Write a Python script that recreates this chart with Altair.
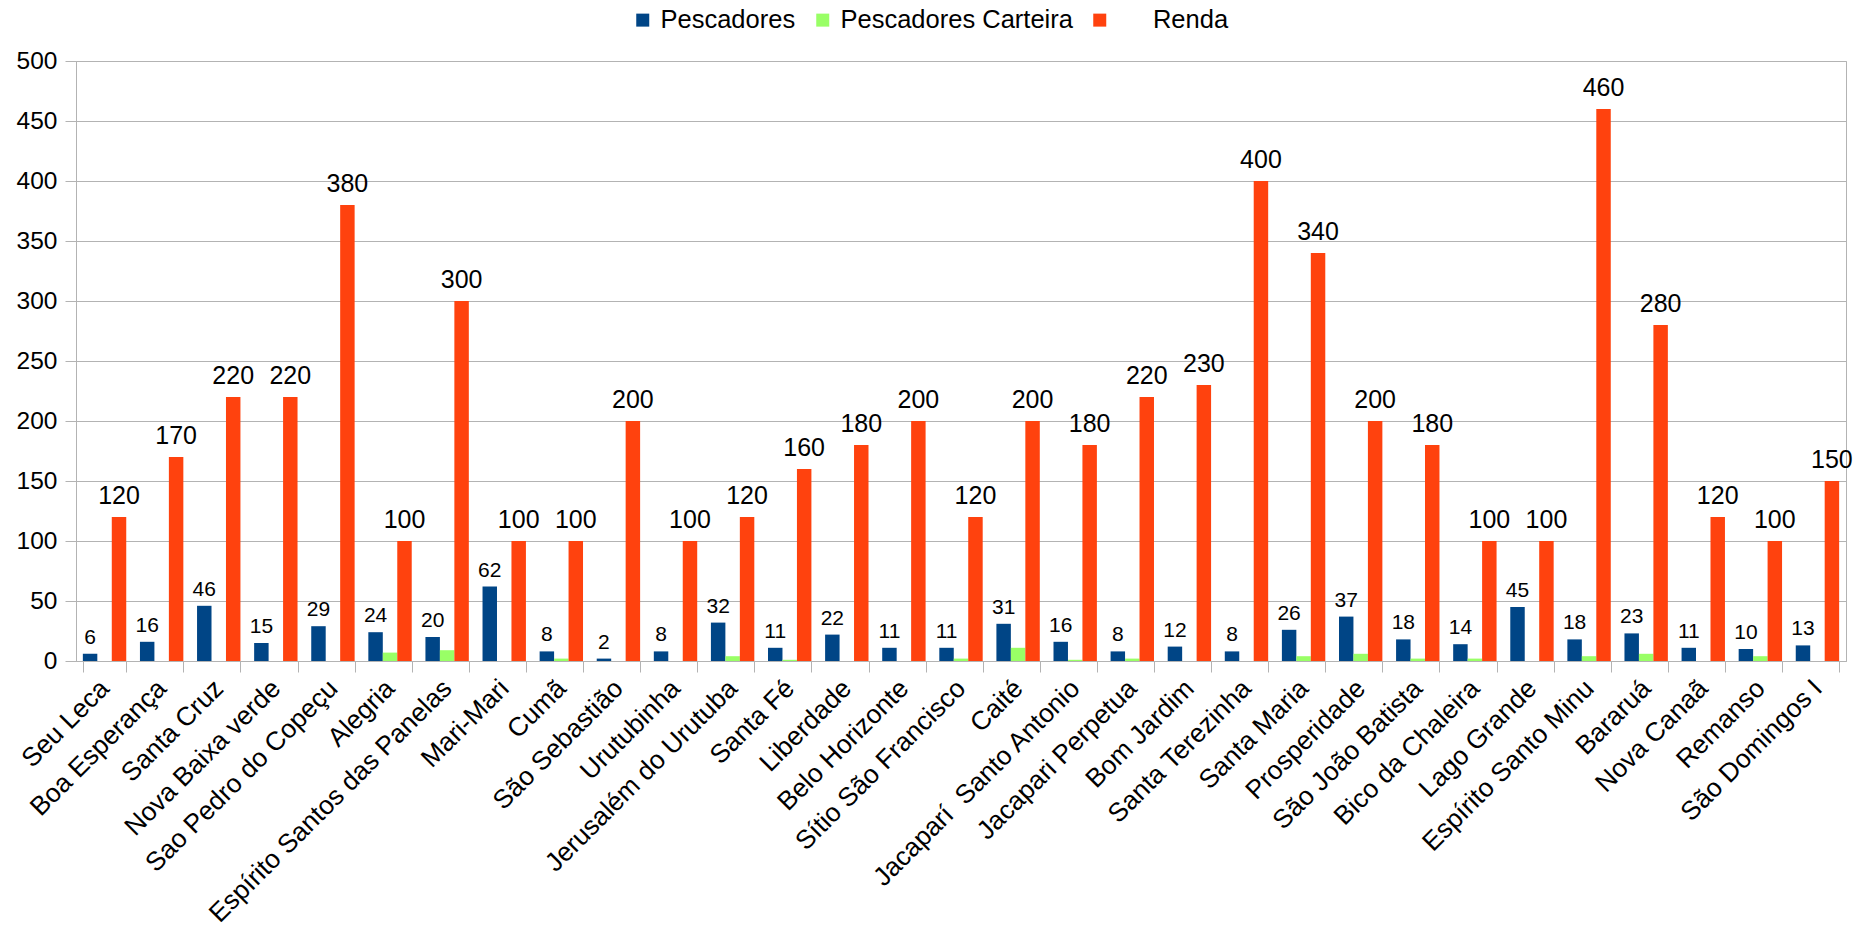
import altair as alt
import pandas as pd

# Communities, in display order
comunidades = [
    "Seu Leca", "Boa Esperança", "Santa Cruz", "Nova Baixa verde",
    "Sao Pedro do Copeçu", "Alegria", "Espírito Santos das Panelas",
    "Mari-Mari", "Cumã", "São Sebastião", "Urutubinha",
    "Jerusalém do Urutuba", "Santa Fé", "Liberdade", "Belo Horizonte",
    "Sítio São Francisco", "Caité", "Jacaparí  Santo Antonio",
    "Jacapari Perpetua", "Bom Jardim", "Santa Terezinha", "Santa Maria",
    "Prosperidade", "São João Batista", "Bico da Chaleira", "Lago Grande",
    "Espírito Santo Minu", "Bararuá", "Nova Canaã", "Remanso",
    "São Domingos I",
]

pescadores = [6, 16, 46, 15, 29, 24, 20, 62, 8, 2, 8, 32, 11, 22, 11, 11,
              31, 16, 8, 12, 8, 26, 37, 18, 14, 45, 18, 23, 11, 10, 13]

pescadores_carteira = [0, 0, 0, 0, 0, 7, 9, 0, 2, 0, 0, 4, 1, 0, 0, 2,
                       11, 1, 2, 0, 0, 4, 6, 2, 2, 0, 4, 6, 0, 4, 0]

renda = [120, 170, 220, 220, 380, 100, 300, 100, 100, 200, 100, 120, 160,
         180, 200, 120, 200, 180, 220, 230, 400, 340, 200, 180, 100, 100,
         460, 280, 120, 100, 150]

series = ["Pescadores", "Pescadores Carteira", "Renda"]
cores = ["#004586", "#99ff66", "#ff420e"]

rows = []
for i, c in enumerate(comunidades):
    for s, vals in zip(series, [pescadores, pescadores_carteira, renda]):
        rows.append({"comunidade": c, "serie": s, "valor": vals[i]})
df = pd.DataFrame(rows)

FONT = "Liberation Sans"
GRID = "#b3b3b3"
NBSP = "\u00a0"
ZWSP = "\u200b"

x_enc = alt.X(
    "comunidade:N",
    sort=comunidades,
    scale=alt.Scale(paddingInner=0.24, paddingOuter=0.12),
    axis=alt.Axis(
        title=None,
        labelAngle=-45,
        labelAlign="right",
        labelBaseline="middle",
        labelFontSize=26.3,
        labelPadding=12,
        labelLimit=1000,
        labelColor="black",
        # keep doubled spaces in names visible
        labelExpr=f"replace(datum.label, '  ', '{NBSP}{NBSP}')",
        tickBand="extent",
        tickSize=11,
        tickColor=GRID,
        domainColor=GRID,
        grid=False,
    ),
)
xoff_enc = alt.XOffset(
    "serie:N",
    sort=series,
    scale=alt.Scale(domain=series, paddingInner=0, paddingOuter=0),
)
y_enc = alt.Y(
    "valor:Q",
    scale=alt.Scale(domain=[0, 500], nice=False),
    axis=alt.Axis(
        title=None,
        values=list(range(0, 501, 50)),
        labelFontSize=24.5,
        labelColor="black",
        labelPadding=8,
        tickSize=11,
        tickColor=GRID,
        domainColor=GRID,
        gridColor=GRID,
        grid=True,
    ),
)

renda_gap = ZWSP + NBSP * 5
bars = alt.Chart(df).mark_bar().encode(
    x=x_enc,
    xOffset=xoff_enc,
    y=y_enc,
    color=alt.Color(
        "serie:N",
        sort=series,
        scale=alt.Scale(domain=series, range=cores),
        legend=alt.Legend(
            title=None,
            orient="none",
            direction="horizontal",
            legendX=554,
            legendY=-54,
            labelFontSize=25.5,
            labelColor="black",
            labelLimit=1000,
            labelOffset=5,
            symbolType="square",
            symbolSize=169,
            symbolStrokeWidth=0,
            columnPadding=14,
            labelExpr=f"datum.label == 'Renda' ? '{renda_gap}Renda' : datum.label",
        ),
    ),
)

lbl_pesc = alt.Chart(df).transform_filter(
    alt.datum.serie == "Pescadores"
).mark_text(baseline="alphabetic", dy=-10, fontSize=21, color="black").encode(
    x=x_enc, xOffset=xoff_enc, y=y_enc, text="valor:Q"
)

lbl_renda = alt.Chart(df).transform_filter(
    alt.datum.serie == "Renda"
).mark_text(baseline="alphabetic", dy=-13, fontSize=25, color="black").encode(
    x=x_enc, xOffset=xoff_enc, y=y_enc, text="valor:Q"
)

chart = (
    alt.layer(bars, lbl_pesc, lbl_renda)
    .properties(
        width=1770,
        height=600,
        autosize=alt.AutoSizeParams(type="none"),
        padding={"left": 76, "top": 61, "right": 29, "bottom": 269},
    )
    .configure(font=FONT)
    .configure_view(stroke=GRID, strokeWidth=1)
)

chart.save("out.html", embed_options={"renderer": "svg", "actions": False})
